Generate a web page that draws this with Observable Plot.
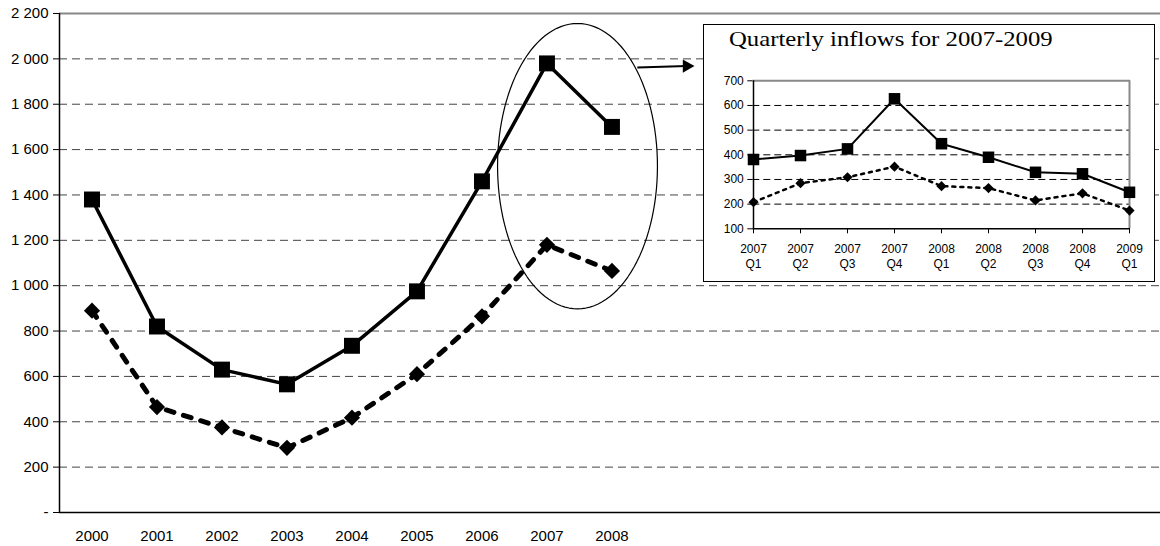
<!DOCTYPE html>
<html><head><meta charset="utf-8">
<script src="https://cdn.jsdelivr.net/npm/d3@7"></script>
<script src="https://cdn.jsdelivr.net/npm/@observablehq/plot@0.6"></script>
<style>
body{margin:0;background:#fff;}
#wrap{position:relative;width:1160px;height:546px;overflow:hidden;}
#main{position:absolute;left:0;top:0;}
#inset{position:absolute;left:703px;top:24px;width:450px;height:256px;border:1px solid #000;background:#fff;}
#title{position:absolute;left:25px;top:3px;font-family:"Liberation Serif","Times New Roman",serif;font-size:22px;line-height:22px;white-space:nowrap;color:#000;transform:scaleX(1.125);transform-origin:0 0;}
#insetPlot{position:absolute;left:0;top:36px;}
</style>
</head><body>
<div id="wrap">
  <div id="main"></div>
  <div id="inset"><div id="title">Quarterly inflows for 2007-2009</div><div id="insetPlot"></div></div>
</div>
<script>
// ---- main chart data ----
const years = [2000, 2001, 2002, 2003, 2004, 2005, 2006, 2007, 2008];
const seriesSolid = [1380, 820, 630, 565, 735, 975, 1460, 1980, 1700];
const seriesDotted = [890, 465, 375, 285, 418, 610, 865, 1180, 1065];
const yTicks = [0, 200, 400, 600, 800, 1000, 1200, 1400, 1600, 1800, 2000, 2200];

// ---- inset data ----
const quarters = ["2007 Q1","2007 Q2","2007 Q3","2007 Q4","2008 Q1","2008 Q2","2008 Q3","2008 Q4","2009 Q1"];
const qSolid = [381, 397, 424, 627, 445, 390, 329, 323, 248];
const qDotted = [208, 285, 309, 352, 273, 265, 215, 244, 174];
const qTicks = [100, 200, 300, 400, 500, 600, 700];

// ---- annotation (ellipse around 2007-2008 and arrow), data units ----
const ellipse = {cx: 2007.47, cy: 1527, rx: 1.23, ry: 629};
const arrow = {x1: 2008.39, y1: 1962, x2: 2009.15, y2: 1968};

const X0 = 1999.5, X1 = 2016.44;
const solidData = years.map((y, i) => ({year: y, value: seriesSolid[i]}));
const dottedData = years.map((y, i) => ({year: y, value: seriesDotted[i]}));
const ellipsePts = d3.range(0, 121).map(k => {
  const t = k / 120 * 2 * Math.PI;
  return {x: ellipse.cx + ellipse.rx * Math.cos(t), y: ellipse.cy + ellipse.ry * Math.sin(t)};
});
const fmt = d => d === 0 ? "-" : d3.format(",")(d).replace(/,/g, " ");

const main = Plot.plot({
  width: 1160, height: 546,
  marginLeft: 59, marginRight: 0, marginTop: 13, marginBottom: 34,
  x: {domain: [X0, X1]},
  y: {domain: [0, 2200]},
  style: {fontFamily: '"Liberation Sans", Arial, sans-serif', fontSize: "15px", color: "#000", background: "transparent"},
  marks: [
    Plot.ruleY(yTicks.filter(d => d > 0 && d < 2200), {stroke: "#444", strokeWidth: 1, strokeDasharray: "8,5"}),
    Plot.ruleY([2200], {stroke: "#888", strokeWidth: 2}),
    Plot.ruleY([0], {stroke: "#000", strokeWidth: 1.5}),
    Plot.ruleX([X0], {stroke: "#000", strokeWidth: 1.5}),
    Plot.axisY({ticks: yTicks, tickSize: 6, tickPadding: 5, tickFormat: fmt, label: null}),
    Plot.axisX({ticks: years, tickSize: 0, tickPadding: 18, tickFormat: d => String(d), label: null}),
    Plot.line(ellipsePts, {x: "x", y: "y", stroke: "#000", strokeWidth: 1.2, curve: "linear-closed"}),
    Plot.link([arrow], {x1: "x1", y1: "y1", x2: "x2", y2: "y2", stroke: "#000", strokeWidth: 2}),
    Plot.dot([arrow], {x: "x2", y: "y2", symbol: "triangle", r: 5, rotate: 90, fill: "#000", stroke: "none"}),
    Plot.line(dottedData, {x: "year", y: "value", stroke: "#000", strokeWidth: 5, strokeDasharray: "8,10"}),
    Plot.dot(dottedData, {x: "year", y: "value", symbol: "diamond2", r: 7.3, fill: "#000", stroke: "none"}),
    Plot.line(solidData, {x: "year", y: "value", stroke: "#000", strokeWidth: 3.5}),
    Plot.dot(solidData, {x: "year", y: "value", symbol: "square", r: 9, fill: "#000", stroke: "none"})
  ]
});
document.getElementById("main").appendChild(main);

const qSolidData = quarters.map((q, i) => ({q, value: qSolid[i]}));
const qDottedData = quarters.map((q, i) => ({q, value: qDotted[i]}));

const inset = Plot.plot({
  width: 450, height: 220,
  marginLeft: 48.3, marginRight: 24, marginTop: 19.3, marginBottom: 52.7,
  x: {type: "point", domain: quarters, padding: 0},
  y: {domain: [100, 700]},
  style: {fontFamily: '"Liberation Sans", Arial, sans-serif', fontSize: "12px", color: "#000", background: "transparent"},
  marks: [
    Plot.ruleY(qTicks.filter(d => d > 100 && d < 700), {stroke: "#000", strokeWidth: 1, strokeDasharray: "7,4"}),
    Plot.ruleY([700], {stroke: "#888", strokeWidth: 2}),
    Plot.ruleX([quarters[quarters.length - 1]], {stroke: "#888", strokeWidth: 2}),
    Plot.ruleY([100], {stroke: "#000", strokeWidth: 1.5}),
    Plot.ruleX([quarters[0]], {stroke: "#000", strokeWidth: 1.5}),
    Plot.axisY({ticks: qTicks, tickSize: 5, tickPadding: 4, label: null}),
    Plot.axisX({tickSize: 5, tickPadding: 8, tickFormat: d => d.replace(" ", "\n"), label: null, lineHeight: 1.3}),
    Plot.line(qDottedData, {x: "q", y: "value", stroke: "#000", strokeWidth: 2.5, strokeDasharray: "3,5"}),
    Plot.dot(qDottedData, {x: "q", y: "value", symbol: "diamond2", r: 4.6, fill: "#000", stroke: "none"}),
    Plot.line(qSolidData, {x: "q", y: "value", stroke: "#000", strokeWidth: 2}),
    Plot.dot(qSolidData, {x: "q", y: "value", symbol: "square", r: 6.5, fill: "#000", stroke: "none"})
  ]
});
document.getElementById("insetPlot").appendChild(inset);
</script>
</body></html>
